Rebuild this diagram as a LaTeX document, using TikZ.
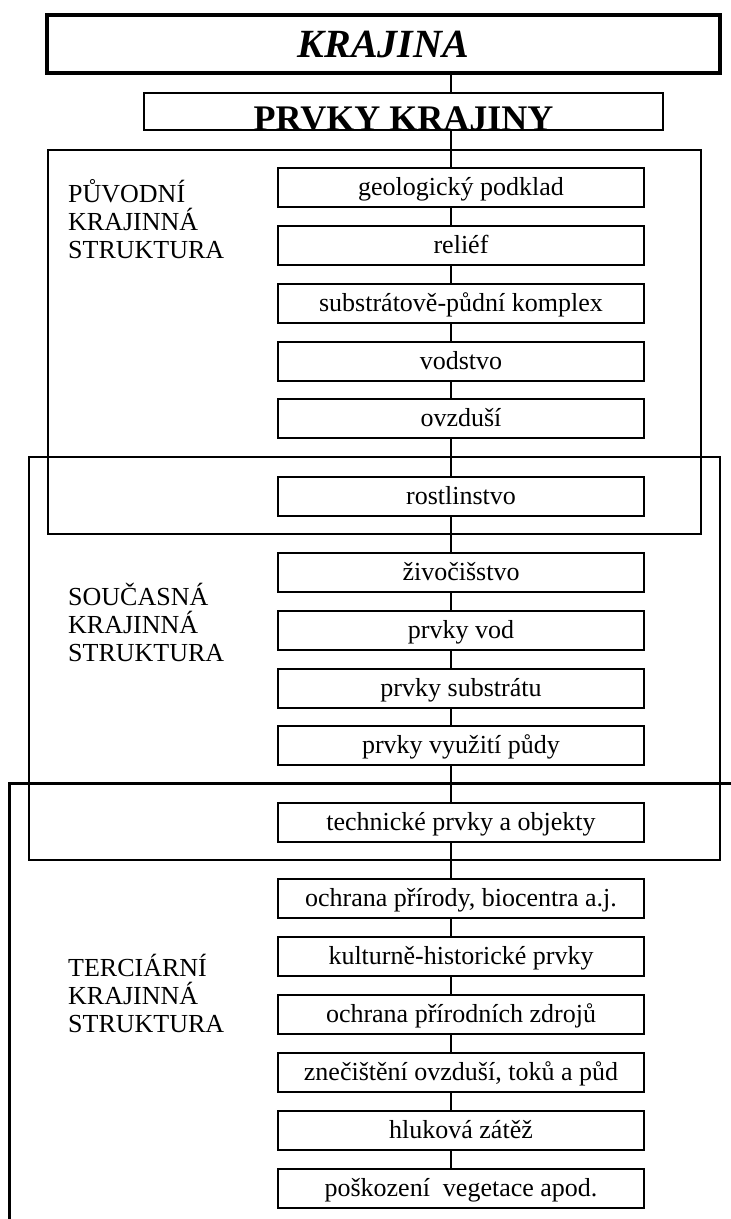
\documentclass[tikz,border=0pt]{standalone}
\usepackage{fontspec}
\setmainfont{Liberation Serif}
\begin{document}
\begin{tikzpicture}[x=1pt,y=-1pt,
  item/.style={draw, line width=1.5pt, fill=white, minimum width=366pt, minimum height=39pt, inner sep=0pt,
               text height=21pt, text depth=5pt, font=\fontsize{26}{28}\selectfont},
  lbl/.style={anchor=base west, align=left, inner sep=0pt, font=\fontsize{26}{28}\selectfont},
  conn/.style={line width=1.5pt},
  region/.style={line width=1.5pt},
  heavyregion/.style={line width=3pt}]
\useasboundingbox (0,0) rectangle (731,1219);
% region frames
\draw[region] (48,150) rectangle (701,534);
\draw[region] (29,457) rectangle (720,860);
\draw[heavyregion] (9,1225) -- (9,783) -- (735,783);
% title boxes
\node[draw, line width=4pt, minimum width=673pt, minimum height=58pt, inner sep=0pt,
      font=\fontsize{40}{40}\selectfont\bfseries\itshape] (kraj) at (383.5,44) {KRAJINA};
\node[draw, line width=1.5pt, minimum width=519pt, text height=37pt, text depth=0pt, inner ysep=0pt,
      font=\fontsize{36}{36}\selectfont\bfseries] (prvky) at (403.5,111.5) {PRVKY KRAJINY};
% items
\coordinate (cx) at (451,0);
\node[item] (geol)   at (461,187.5)  {geologický podklad};
\node[item] (relief) at (461,245.5)  {reliéf};
\node[item] (substr) at (461,303.5)  {substrátově-půdní komplex};
\node[item] (vodst)  at (461,361.5)  {vodstvo};
\node[item] (ovzd)   at (461,418.5)  {ovzduší};
\node[item] (rost)   at (461,496.5)  {rostlinstvo};
\node[item] (ziv)    at (461,572.5)  {živočišstvo};
\node[item] (pvod)   at (461,630.5)  {prvky vod};
\node[item] (psub)   at (461,688.5)  {prvky substrátu};
\node[item] (pvyu)   at (461,745.5)  {prvky využití půdy};
\node[item] (tech)   at (461,822.5)  {technické prvky a objekty};
\node[item] (ochr)   at (461,898.5)  {ochrana přírody, biocentra a.j.};
\node[item] (kult)   at (461,956.5)  {kulturně-historické prvky};
\node[item] (zdroj)  at (461,1014.5) {ochrana přírodních zdrojů};
\node[item] (znec)   at (461,1072.5) {znečištění ovzduší, toků a půd};
\node[item] (hluk)   at (461,1130.5) {hluková zátěž};
\node[item] (posk)   at (461,1188.5) {poškození\ \ vegetace apod.};
% connectors
\foreach \a/\b in {kraj/prvky, prvky/geol, geol/relief, relief/substr, substr/vodst, vodst/ovzd,
                   ovzd/rost, rost/ziv, ziv/pvod, pvod/psub, psub/pvyu, pvyu/tech, tech/ochr,
                   ochr/kult, kult/zdroj, zdroj/znec, znec/hluk, hluk/posk}
  \draw[conn] (\a.south -| cx) -- (\b.north -| cx);
% labels (anchor = baseline of last line)
\node[lbl] (lab1) at (68,258) {PŮVODNÍ\\KRAJINNÁ\\STRUKTURA};
\node[lbl] (lab2) at (68,661) {SOUČASNÁ\\KRAJINNÁ\\STRUKTURA};
\node[lbl] (lab3) at (68,1032) {TERCIÁRNÍ\\KRAJINNÁ\\STRUKTURA};
\end{tikzpicture}
\end{document}
